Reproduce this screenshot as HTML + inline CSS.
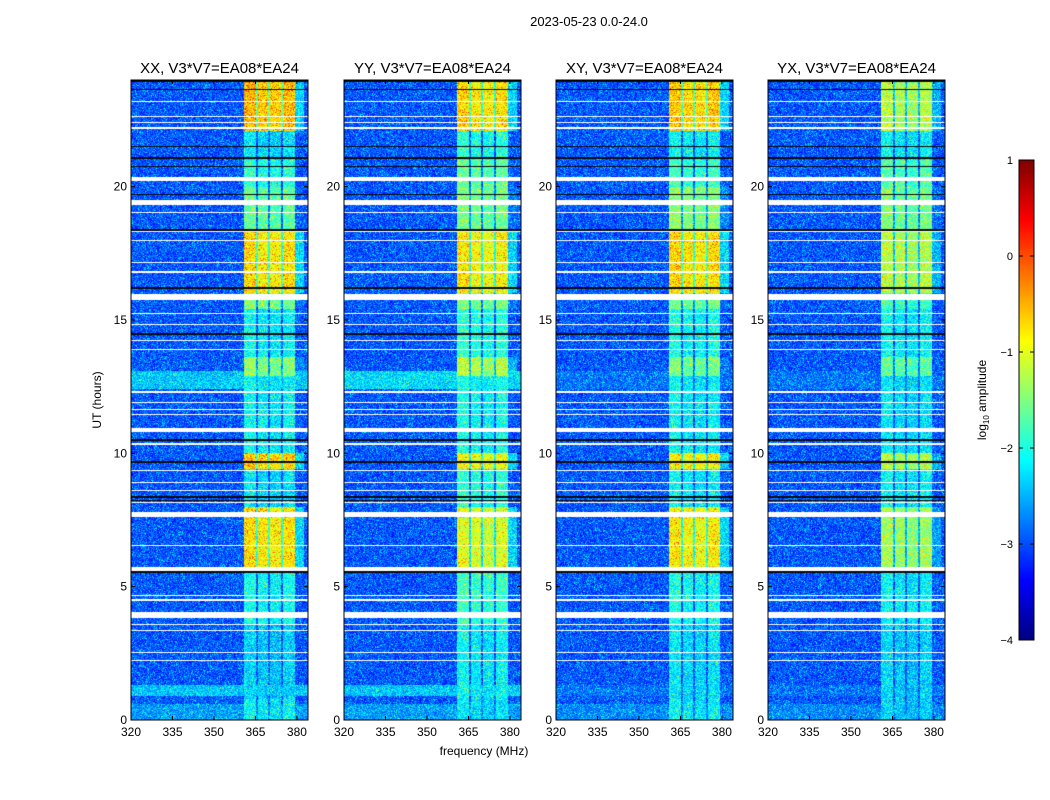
<!DOCTYPE html>
<html><head><meta charset="utf-8">
<style>
html,body{margin:0;padding:0;background:#fff;}
#wrap{position:relative;width:1050px;height:800px;font-family:"Liberation Sans",sans-serif;}
canvas,svg{position:absolute;left:0;top:0;}
</style></head>
<body>
<div id="wrap">
<canvas id="cv" width="1050" height="800"></canvas>
<svg id="sv" width="1050" height="800"></svg>
</div>
<script>
// ---- data ----
const panelTitles = ["XX, V3*V7=EA08*EA24","YY, V3*V7=EA08*EA24","XY, V3*V7=EA08*EA24","YX, V3*V7=EA08*EA24"];
const xTicks = [320,335,350,365,380];
const yTicks = [0,5,10,15,20];
const cbTicks = [1,0,-1,-2,-3,-4];
// band activity segments (hours) and log10 amplitude per polarisation
const segStart = [0,0.8,3.6,5.6,8.0,9.4,10.0,12.9,13.6,15.4,16.0,18.4,20.0,21.0,22.1];
const segEnd   = [0.8,3.6,5.6,8.0,9.4,10.0,12.9,13.6,15.4,16.0,18.4,20.0,21.0,22.1,24];
const bandXX = [-2.1,-2.3,-2.0,-0.7,-2.2,-0.6,-2.1,-1.4,-2.1,-1.5,-0.7,-1.6,-1.9,-2.2,-0.5];
const bandYY = [-2.2,-2.1,-1.8,-1.0,-1.9,-0.9,-2.0,-1.2,-1.9,-1.5,-0.8,-1.5,-1.6,-1.9,-0.7];
const bandXY = [-2.1,-2.2,-2.0,-0.8,-2.1,-0.8,-2.1,-1.5,-2.0,-1.5,-0.7,-1.4,-1.8,-2.1,-0.6];
const bandYX = [-2.3,-2.3,-2.1,-1.3,-2.1,-1.2,-2.2,-1.6,-2.1,-1.8,-1.2,-1.5,-1.7,-2.1,-1.2];
// sub-band channel offsets (MHz ranges)
const subStart = [361,365.3,366,369.6,370.3,374.3,375,379.3];
const subEnd   = [365.3,366,369.6,370.3,374.3,375,379.3,382.5];
const subOff   = [0,-1.2,-0.1,-1.2,-0.15,-1.2,-0.05,-1.3];
// background level
const bgLevel = -2.95;
const bgBandStart = [0,0.9,12.4];
const bgBandEnd   = [0.6,1.3,13.1];
const bgBandXX = [-2.6,-2.4,-2.4];
const bgBandYY = [-2.6,-2.4,-2.3];
const bgBandXY = [-2.7,-2.8,-2.8];
const bgBandYX = [-2.7,-2.8,-2.8];
// flagged (white) rows
const flagStart = [3.82,5.6,7.6,10.8,15.75,19.3,20.2,2.22,2.52,3.32,3.55,4.48,4.65,6.52,8.14,8.6,8.9,9.35,10.33,11.43,11.62,11.88,12.28,13.88,14.22,14.8,15.24,16.78,17.15,17.95,18.3,19.02,22.18,22.4,22.6,23.18];
const flagEnd   = [4.05,5.75,7.8,10.95,15.97,19.5,20.35,2.26,2.56,3.36,3.59,4.52,4.69,6.56,8.18,8.64,8.94,9.39,10.37,11.47,11.66,11.92,12.32,13.92,14.26,14.84,15.28,16.82,17.19,17.99,18.34,19.06,22.22,22.44,22.64,23.22];
// black rows
const blackRow = [23.65,23.96,21.5,21.08,20.75,19.7,18.37,16.2,14.47,10.5,9.67,8.36,8.23,5.55];

const bands=[bandXX,bandYY,bandXY,bandYX];
const bgBands=[bgBandXX,bgBandYY,bgBandXY,bgBandYX];
const panelX=[131,344,556,768], PW=177, PT=80, PB=720;
const fMin=320,fMax=384,tMax=24;
function xs(p,f){return panelX[p]+(f-fMin)*PW/(fMax-fMin);}
function ys(t){return PB-t*(PB-PT)/tMax;}
function jet(v){let t=(v+4)/5;t=Math.max(0,Math.min(1,t));
 const c=x=>Math.round(255*Math.max(0,Math.min(1,x)));
 return [c(1.5-Math.abs(4*t-3)),c(1.5-Math.abs(4*t-2)),c(1.5-Math.abs(4*t-1))];}
function hash(a,b,c){let h=(a*374761393+b*668265263+c*2147483647)|0;h=(h^(h>>>13))*1274126177|0;return ((h^(h>>>16))>>>0)/4294967296;}

const ctx=document.getElementById('cv').getContext('2d');
const img=ctx.createImageData(1050,800);
for(let p=0;p<4;p++){
 const x0=panelX[p];
 for(let py=PT;py<PB;py++){
  const t=(PB-py-0.5)*tMax/(PB-PT);
  let seg=0;for(let i=0;i<segStart.length;i++) if(t>=segStart[i]&&t<segEnd[i]) seg=i;
  let bg=bgLevel;for(let i=0;i<bgBandStart.length;i++) if(t>=bgBandStart[i]&&t<bgBandEnd[i]) bg=bgBands[p][i];
  let flag=false;for(let i=0;i<flagStart.length;i++) if(t>=flagStart[i]&&t<flagEnd[i]) flag=true;
  let blk=false;for(let i=0;i<blackRow.length;i++) if(Math.abs(t-blackRow[i])<0.025) blk=true;
  for(let px=x0;px<x0+PW;px++){
   const f=fMin+(px-x0+0.5)*(fMax-fMin)/PW;
   let v=bg;
   for(let k=0;k<subStart.length;k++) if(f>=subStart[k]&&f<subEnd[k]){
     let b=bands[p][seg]+subOff[k];
     if(k===7) b=Math.min(b,-2.3);
     v=Math.max(v,b);}
   const n=hash(px,py,p);
   v+= (n-0.5)*0.8 + (n>0.93?0.35:0);
   let col=jet(v);
   if(flag) col=[255,255,255]; else if(blk) col=[10,10,10];
   const idx=(py*1050+px)*4;
   img.data[idx]=col[0];img.data[idx+1]=col[1];img.data[idx+2]=col[2];img.data[idx+3]=255;
  }
 }
}
// colorbar
for(let py=160;py<640;py++){const v=1-(py-160)*5/480;const c=jet(v);
 for(let px=1019;px<1034;px++){const idx=(py*1050+px)*4;img.data[idx]=c[0];img.data[idx+1]=c[1];img.data[idx+2]=c[2];img.data[idx+3]=255;}}
for(let i=0;i<img.data.length;i+=4){if(img.data[i+3]===0){img.data[i]=img.data[i+1]=img.data[i+2]=img.data[i+3]=255;}}
ctx.putImageData(img,0,0);

// ---- SVG overlay ----
const NS='http://www.w3.org/2000/svg';const sv=document.getElementById('sv');
function mk(tag,attrs,txt){const e=document.createElementNS(NS,tag);for(const k in attrs)e.setAttribute(k,attrs[k]);if(txt!==undefined)e.textContent=txt;sv.appendChild(e);return e;}
let e=mk('text',{x:589,y:26,'font-size':13,'text-anchor':'middle'},"2023-05-23 0.0-24.0");


for(let p=0;p<4;p++){
 const x0=panelX[p];
 e=mk('rect',{x:x0,y:PT,width:PW,height:PB-PT,fill:'none',stroke:'#000','stroke-width':1});
 
 
 e=mk('text',{x:x0+PW/2,y:PT-7,'font-size':15,'text-anchor':'middle'},panelTitles[p]);
 
 
 xTicks.forEach(f=>{const x=xs(p,f);
  mk('line',{x1:x,x2:x,y1:PB,y2:PB-4,stroke:'#000'});mk('line',{x1:x,x2:x,y1:PT,y2:PT+4,stroke:'#000'});
  e=mk('text',{x:x,y:PB+16,'font-size':12,'text-anchor':'middle'},String(f));
  
  });
 yTicks.forEach(t=>{const y=ys(t);
  mk('line',{x1:x0,x2:x0+4,y1:y,y2:y,stroke:'#000'});mk('line',{x1:x0+PW,x2:x0+PW-4,y1:y,y2:y,stroke:'#000'});
  e=mk('text',{x:x0-4,y:y+4,'font-size':12,'text-anchor':'end'},String(t));
  
  });
}
e=mk('text',{x:484,y:755,'font-size':12,'text-anchor':'middle'},"frequency (MHz)");


e=mk('text',{x:0,y:0,'font-size':12,'text-anchor':'middle',transform:'translate(101,400) rotate(-90)'},"UT (hours)");


e=mk('rect',{x:1019,y:160,width:15,height:480,fill:'none',stroke:'#000'});


cbTicks.forEach(v=>{const y=160+(1-v)*480/5;
 mk('line',{x1:1019,x2:1023,y1:y,y2:y,stroke:'#000'});mk('line',{x1:1034,x2:1030,y1:y,y2:y,stroke:'#000'});
 e=mk('text',{x:1013,y:y+4,'font-size':11,'text-anchor':'end'},v<0?'\u2212'+(-v):String(v));
 
 });
e=mk('text',{x:0,y:0,'font-size':12,'text-anchor':'middle',transform:'translate(986,400) rotate(-90)'});


e.innerHTML='log<tspan font-size="8" dy="3">10</tspan><tspan dy="-3"> amplitude</tspan>';
</script>
</body></html>
